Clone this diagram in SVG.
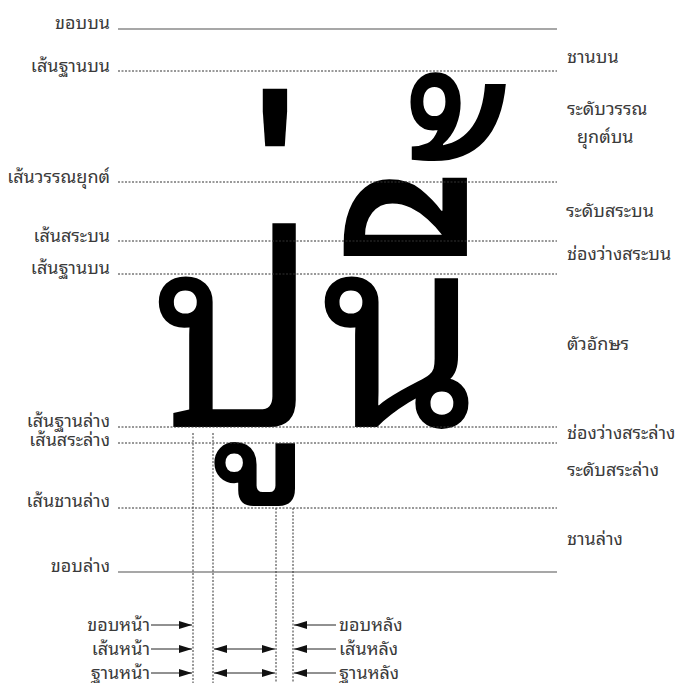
<svg xmlns="http://www.w3.org/2000/svg" width="675" height="683" viewBox="0 0 675 683">
<style>
.lbl{font-family:"Noto Sans Thai Looped","Noto Sans",sans-serif;font-size:18px;fill:#3a3a3a}
.l{text-anchor:end}
.big{font-family:"Noto Sans Thai Looped","Noto Sans",sans-serif;font-size:268px;fill:#000}
.solid{stroke:#8a8a8a;stroke-width:1.5;fill:none}
.dot{stroke:#333;stroke-width:1;stroke-dasharray:2 1.5;fill:none}
.arr{stroke:#222;stroke-width:1;fill:none}
</style>
<defs>
<marker id="ah" markerUnits="userSpaceOnUse" markerWidth="14" markerHeight="8" refX="13" refY="4" orient="auto-start-reverse">
<path d="M0,0 L13,4 L0,8 Z" fill="#111"/>
</marker>
</defs>
<rect width="675" height="683" fill="#fff"/>

<g id="glyphs">
<text class="big" transform="translate(151,427) scale(0.97,1)">ป</text>
<text class="big" transform="translate(316,426) scale(0.88,0.95)">ู</text>
<text class="big" x="311" y="318">่</text>
<text class="big" transform="translate(320,427) scale(0.97,1)">น</text>
<text class="big" transform="translate(492,531) scale(1.05,1.6)">ี</text>
<text class="big" transform="translate(515,386) scale(0.98,1.32)">้</text>
</g>

<g id="connectors">
<line class="solid" x1="118" y1="29" x2="557" y2="29"/>
<line class="dot" x1="118" y1="71" x2="557" y2="71"/>
<line class="dot" x1="118" y1="182" x2="557" y2="182"/>
<line class="dot" x1="118" y1="241" x2="557" y2="241"/>
<line class="dot" x1="118" y1="274" x2="557" y2="274"/>
<line class="dot" x1="118" y1="427" x2="557" y2="427"/>
<line class="dot" x1="118" y1="443" x2="557" y2="443"/>
<line class="dot" x1="118" y1="508" x2="557" y2="508"/>
<line class="solid" x1="118" y1="572" x2="557" y2="572"/>
<line class="dot" x1="193" y1="433" x2="193" y2="683"/>
<line class="dot" x1="213" y1="433" x2="213" y2="683"/>
<line class="dot" x1="276" y1="508" x2="276" y2="683"/>
<line class="dot" x1="293" y1="508" x2="293" y2="683"/>
<line class="arr" x1="151" y1="625" x2="192" y2="625" marker-end="url(#ah)"/>
<line class="arr" x1="151" y1="649" x2="192" y2="649" marker-end="url(#ah)"/>
<line class="arr" x1="151" y1="673" x2="192" y2="673" marker-end="url(#ah)"/>
<line class="arr" x1="214" y1="649" x2="275" y2="649" marker-start="url(#ah)" marker-end="url(#ah)"/>
<line class="arr" x1="214" y1="673" x2="275" y2="673" marker-start="url(#ah)" marker-end="url(#ah)"/>
<line class="arr" x1="336" y1="625" x2="294" y2="625" marker-end="url(#ah)"/>
<line class="arr" x1="336" y1="649" x2="294" y2="649" marker-end="url(#ah)"/>
<line class="arr" x1="336" y1="673" x2="294" y2="673" marker-end="url(#ah)"/>
</g>

<g id="left-labels">
<text class="lbl l" x="110" y="29">ขอบบน</text>
<text class="lbl l" x="110" y="72">เส้นฐานบน</text>
<text class="lbl l" x="110" y="183">เส้นวรรณยุกต์</text>
<text class="lbl l" x="110" y="242">เส้นสระบน</text>
<text class="lbl l" x="110" y="274">เส้นฐานบน</text>
<text class="lbl l" x="110" y="427">เส้นฐานล่าง</text>
<text class="lbl l" x="110" y="446">เส้นสระล่าง</text>
<text class="lbl l" x="110" y="507">เส้นชานล่าง</text>
<text class="lbl l" x="110" y="572">ขอบล่าง</text>
</g>

<g id="right-labels">
<text class="lbl" x="567" y="63">ชานบน</text>
<text class="lbl" x="567" y="115">ระดับวรรณ</text>
<text class="lbl" x="577" y="143">ยุกต์บน</text>
<text class="lbl" x="566" y="217">ระดับสระบน</text>
<text class="lbl" x="567" y="260">ช่องว่างสระบน</text>
<text class="lbl" x="567" y="350">ตัวอักษร</text>
<text class="lbl" x="567" y="439" font-size="17">ช่องว่างสระล่าง</text>
<text class="lbl" x="567" y="476">ระดับสระล่าง</text>
<text class="lbl" x="567" y="545">ชานล่าง</text>
</g>

<g id="bottom-labels">
<text class="lbl l" x="150" y="631">ขอบหน้า</text>
<text class="lbl l" x="150" y="655">เส้นหน้า</text>
<text class="lbl l" x="150" y="679">ฐานหน้า</text>
<text class="lbl" x="339" y="631">ขอบหลัง</text>
<text class="lbl" x="339" y="655">เส้นหลัง</text>
<text class="lbl" x="339" y="679">ฐานหลัง</text>
</g>
</svg>
